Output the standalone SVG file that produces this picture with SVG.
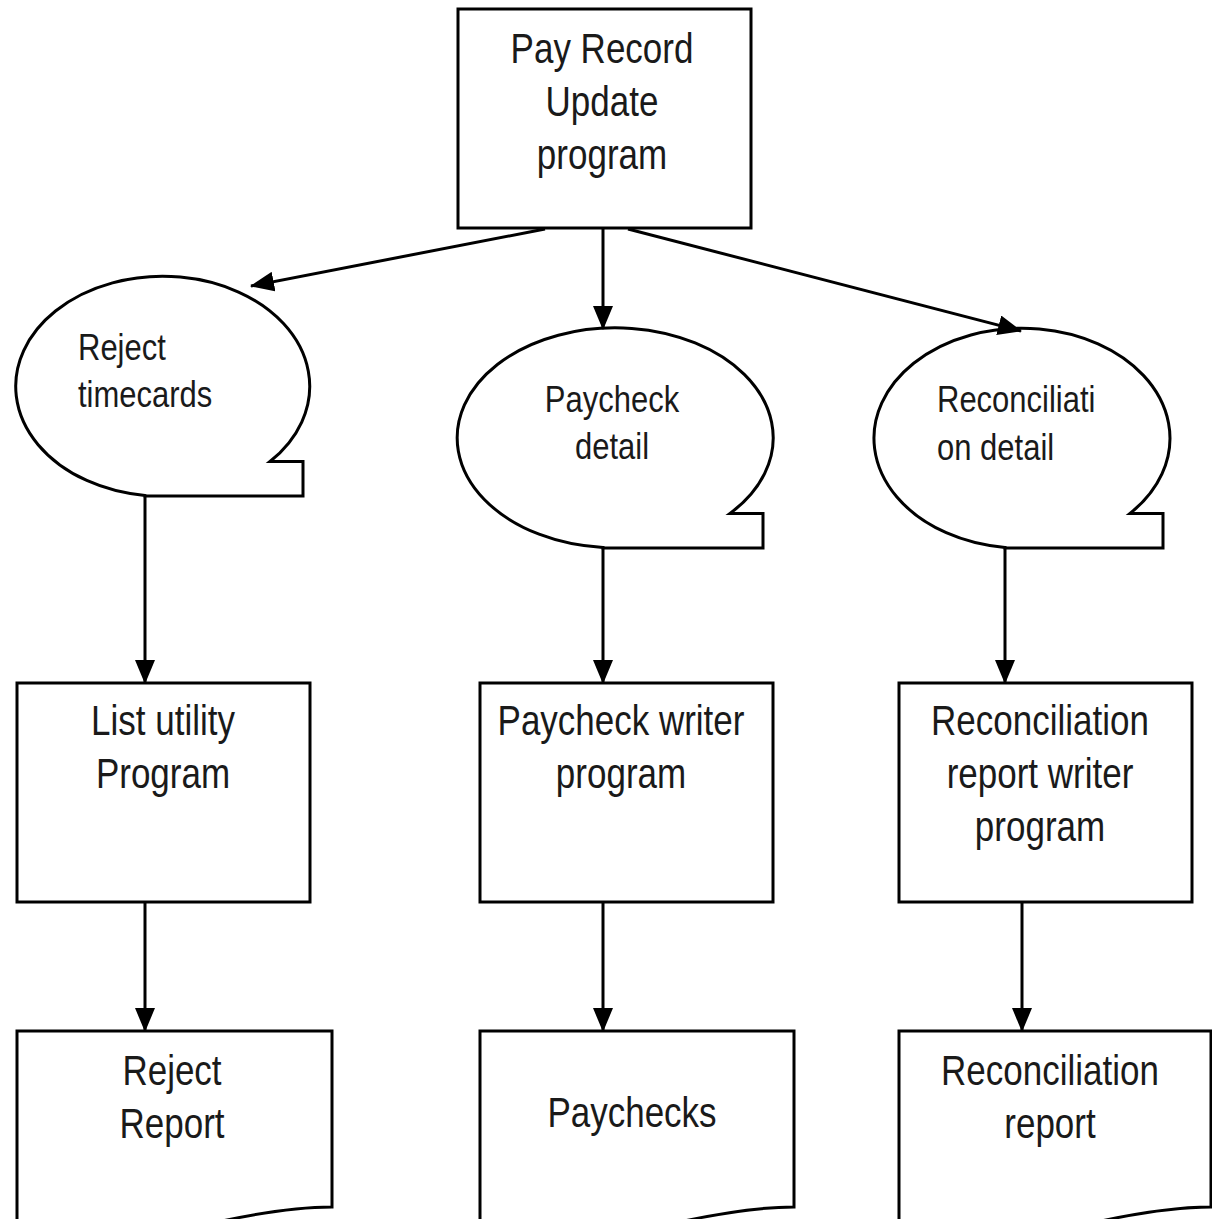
<svg xmlns="http://www.w3.org/2000/svg" width="1212" height="1219" viewBox="0 0 1212 1219">
<style>
.shape{fill:#fff;stroke:#000;stroke-width:3}
.conn{fill:none;stroke:#000;stroke-width:3}
.t{font-family:"Liberation Sans",Arial,sans-serif;fill:#1a1a1a}
.bt{font-size:35px;text-anchor:middle}
.et{font-size:31px}
</style>
<defs>
<marker id="arr" viewBox="0 0 24 20" refX="23" refY="10" markerWidth="24" markerHeight="20" markerUnits="userSpaceOnUse" orient="auto">
<path d="M0,0 L24,10 L0,20 Z" fill="#000"/>
</marker>
</defs>
<rect width="1212" height="1219" fill="#fff"/>

<g id="pay-record-update">
<rect class="shape" x="458" y="9" width="293" height="219"/>
<text class="t bt" transform="translate(602,63) scale(1,1.2)"><tspan x="0" y="0">Pay Record</tspan><tspan x="0" dy="44">Update</tspan><tspan x="0" dy="44">program</tspan></text>
</g>

<g id="reject-timecards">
<path class="shape" d="M145,495.5 A147,110 0 1 1 270,461.5 L303,461.5 L303,496 L145,496 Z"/>
<text class="t et" transform="translate(78,360) scale(1,1.2)"><tspan x="0" y="0">Reject</tspan><tspan x="0" dy="39">timecards</tspan></text>
</g>

<g id="paycheck-detail">
<path class="shape" d="M603,547.5 A158,110 0 1 1 730,513.4 L763,513.4 L763,548 L603,548 Z"/>
<text class="t et" text-anchor="middle" transform="translate(612,412) scale(1,1.2)"><tspan x="0" y="0">Paycheck</tspan><tspan x="0" dy="39">detail</tspan></text>
</g>

<g id="reconciliation-detail">
<path class="shape" d="M1005,547.5 A148,110 0 1 1 1130,513.4 L1163,513.4 L1163,548 L1005,548 Z"/>
<text class="t et" transform="translate(937,412) scale(1,1.2)"><tspan x="0" y="0">Reconciliati</tspan><tspan x="0" dy="40">on detail</tspan></text>
</g>

<g id="list-utility">
<rect class="shape" x="17" y="683" width="293" height="219"/>
<text class="t bt" transform="translate(163,735) scale(1,1.2)"><tspan x="0" y="0">List utility</tspan><tspan x="0" dy="44">Program</tspan></text>
</g>

<g id="paycheck-writer">
<rect class="shape" x="480" y="683" width="293" height="219"/>
<text class="t bt" transform="translate(621,735) scale(1,1.2)"><tspan x="0" y="0">Paycheck writer</tspan><tspan x="0" dy="44">program</tspan></text>
</g>

<g id="reconciliation-writer">
<rect class="shape" x="899" y="683" width="293" height="219"/>
<text class="t bt" transform="translate(1040,735) scale(1,1.2)"><tspan x="0" y="0">Reconciliation</tspan><tspan x="0" dy="44">report writer</tspan><tspan x="0" dy="44">program</tspan></text>
</g>

<g id="reject-report">
<path class="shape" d="M17,1230 L17,1031 L332,1031 L332,1207 C295,1207 255,1213 200,1226 Z"/>
<text class="t bt" transform="translate(172,1085) scale(1,1.2)"><tspan x="0" y="0">Reject</tspan><tspan x="0" dy="44">Report</tspan></text>
</g>

<g id="paychecks">
<path class="shape" d="M480,1230 L480,1031 L794,1031 L794,1207 C757,1207 717,1213 662,1226 Z"/>
<text class="t bt" transform="translate(632,1127) scale(1,1.2)"><tspan x="0" y="0">Paychecks</tspan></text>
</g>

<g id="reconciliation-report">
<path class="shape" d="M899,1230 L899,1031 L1211,1031 L1211,1207 C1174,1207 1134,1213 1079,1226 Z"/>
<text class="t bt" transform="translate(1050,1085) scale(1,1.2)"><tspan x="0" y="0">Reconciliation</tspan><tspan x="0" dy="44">report</tspan></text>
</g>

<g id="connectors">
<line class="conn" x1="545" y1="229" x2="251" y2="286" marker-end="url(#arr)"/>
<line class="conn" x1="603" y1="228" x2="603" y2="329" marker-end="url(#arr)"/>
<line class="conn" x1="628" y1="229" x2="1021" y2="331" marker-end="url(#arr)"/>
<line class="conn" x1="145" y1="496" x2="145" y2="683" marker-end="url(#arr)"/>
<line class="conn" x1="603" y1="548" x2="603" y2="683" marker-end="url(#arr)"/>
<line class="conn" x1="1005" y1="548" x2="1005" y2="683" marker-end="url(#arr)"/>
<line class="conn" x1="145" y1="902" x2="145" y2="1031" marker-end="url(#arr)"/>
<line class="conn" x1="603" y1="902" x2="603" y2="1031" marker-end="url(#arr)"/>
<line class="conn" x1="1022" y1="902" x2="1022" y2="1031" marker-end="url(#arr)"/>
</g>
</svg>
